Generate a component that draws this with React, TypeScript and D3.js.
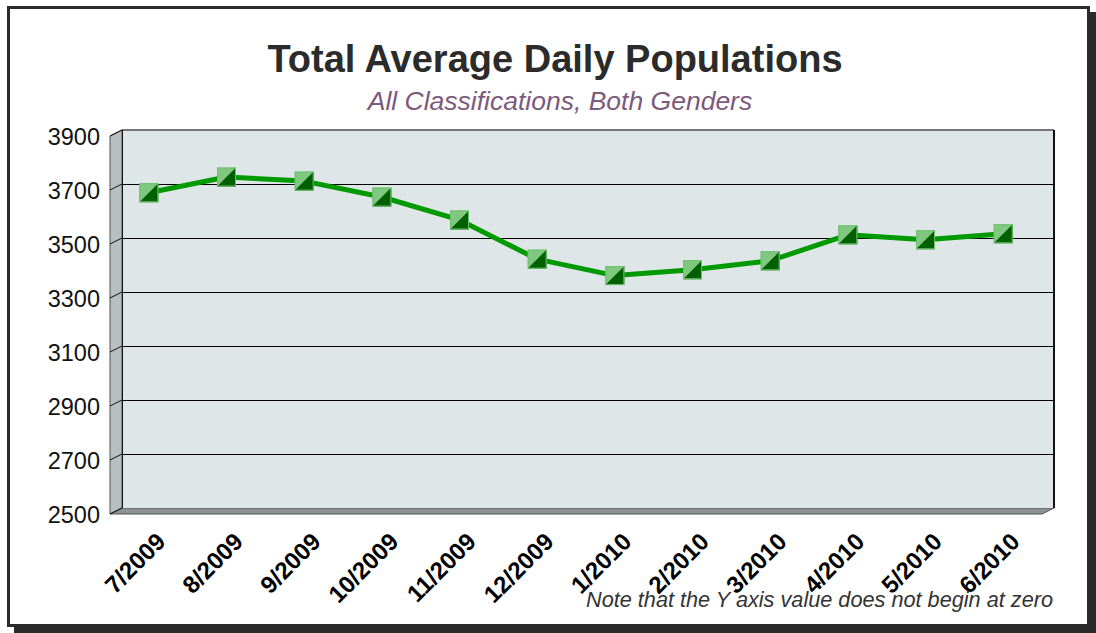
import React from "react";
import * as d3 from "d3";

const categories = ["7/2009","8/2009","9/2009","10/2009","11/2009","12/2009","1/2010","2/2010","3/2010","4/2010","5/2010","6/2010"];
const values = [3690, 3748, 3733, 3674, 3589, 3444, 3383, 3405, 3438, 3534, 3516, 3538];
const yTicks = [2500, 2700, 2900, 3100, 3300, 3500, 3700, 3900];

const W = 1096, H = 633;
const DX = -12, DY = 6; // depth offset back->front
const backL = 122, backR = 1054, backT = 130, backB = 508;

export default function App() {
  const yBack = d3.scaleLinear().domain([2500, 3900]).range([backB, backT]);
  const x = d3.scaleBand().domain(categories).range([backL + DX, backR + DX]);
  const yF = (v: number) => yBack(v) + DY;
  const xc = (c: string) => (x(c) as number) + x.bandwidth() / 2;
  const line = d3.line<number>().x((_, i) => xc(categories[i])).y(v => yF(v));
  const ms = 19;
  const px = (v: number) => Math.round(v) + 0.5;
  return (
    <svg width={W} height={H} style={{ position: "absolute", left: 0, top: 0, fontFamily: "Liberation Sans, Arial, sans-serif" }}>
      <rect x={0} y={0} width={W} height={H} fill="#fff" />
      {/* frame shadow */}
      <rect x={14} y={627} width={1082} height={6} fill="#2b2b2b" />
      <rect x={1090} y={12} width={6} height={621} fill="#2b2b2b" />
      <rect x={8.5} y={7.5} width={1080} height={618} fill="none" stroke="#2b2b2b" strokeWidth={3} />
      {/* title */}
      <text x={555} y={72} textAnchor="middle" fontSize={38} fontWeight="bold" fill="#2b2b2b">Total Average Daily Populations</text>
      <text x={560} y={110} textAnchor="middle" fontSize={26.5} fontStyle="italic" fill="#7b5a7b">All Classifications, Both Genders</text>
      {/* left wall */}
      <polygon points={`${backL},${backT} ${backL + DX},${backT + DY} ${backL + DX},${backB + DY} ${backL},${backB}`} fill="#b9bfc1" stroke="#555" strokeWidth={1} />
      {/* floor */}
      <polygon points={`${backL},${backB} ${backR},${backB} ${backR + DX},${backB + DY} ${backL + DX},${backB + DY}`} fill="#8c9192" stroke="#555" strokeWidth={1} />
      {/* back wall */}
      <rect x={backL} y={backT} width={backR - backL} height={backB - backT} fill="#dfe6e8" />
      <line x1={backL} x2={backR} y1={backT} y2={backT} stroke="#777" strokeWidth={2} />
      <line x1={backR} x2={backR} y1={backT} y2={backB} stroke="#111" strokeWidth={2} />
      <line x1={px(backL)} x2={px(backL)} y1={backT} y2={backB} stroke="#111" strokeWidth={1} />
      {yTicks.map(t => (
        <g key={t}>
          {t !== 3900 && t !== 2500 && (
            <line x1={backL} x2={backR} y1={px(yBack(t))} y2={px(yBack(t))} stroke="#000" strokeWidth={1} />
          )}
          <line x1={backL} x2={backL + DX} y1={yBack(t)} y2={yBack(t) + DY} stroke="#111" strokeWidth={1} />
          <text x={100} y={yF(t) + 9} textAnchor="end" fontSize={23.5} fill="#111">{t}</text>
        </g>
      ))}
      {/* series */}
      <path d={line(values) || ""} fill="none" stroke="#009900" strokeWidth={5} strokeLinejoin="round" />
      {values.map((v, i) => {
        const cx = xc(categories[i]), cy = yF(v);
        const l = cx - ms / 2, t = cy - ms / 2, r = cx + ms / 2, b = cy + ms / 2;
        return (
          <g key={i}>
            <rect x={l} y={t} width={ms} height={ms} fill="#80c880" />
            <polygon points={`${r},${t} ${r},${b} ${l},${b}`} fill="#006000" />
            <rect x={l + 0.5} y={t + 0.5} width={ms - 1} height={ms - 1} fill="none" stroke="#6cc06c" strokeWidth={1} />
          </g>
        );
      })}
      {/* x labels */}
      {categories.map(c => (
        <text key={c} transform={`translate(${xc(c) + 18},${543}) rotate(-45)`} textAnchor="end" fontSize={24} fontWeight="bold" fill="#000">{c}</text>
      ))}
      <text x={1053} y={607} textAnchor="end" fontSize={21.7} fontStyle="italic" fill="#333">Note that the Y axis value does not begin at zero</text>
    </svg>
  );
}
